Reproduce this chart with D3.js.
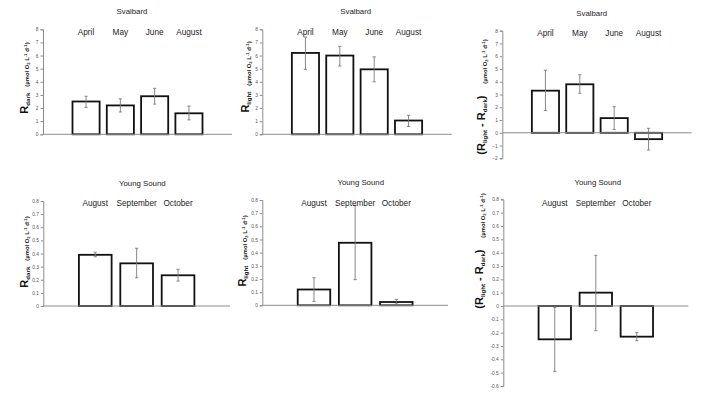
<!DOCTYPE html>
<html>
<head>
<meta charset="utf-8">
<script src="https://cdn.jsdelivr.net/npm/d3@7"></script>
<style>
  html, body { margin: 0; padding: 0; background: #fff; }
  svg { display: block; }
</style>
</head>
<body>
<svg id="chart" width="716" height="394"></svg>
<script>
// Data
const svalbardMonths = ["April", "May", "June", "August"];
const youngSoundMonths = ["August", "September", "October"];

const svalbardDark = [2.5, 2.2, 2.9, 1.6];
const svalbardDarkLo = [2.05, 1.7, 2.3, 1.1];
const svalbardDarkHi = [2.9, 2.7, 3.5, 2.15];

const svalbardLight = [6.2, 6.0, 4.95, 1.05];
const svalbardLightLo = [4.95, 5.2, 4.0, 0.6];
const svalbardLightHi = [7.4, 6.7, 5.9, 1.45];

const svalbardNet = [3.3, 3.8, 1.15, -0.5];
const svalbardNetLo = [1.75, 3.1, 0.25, -1.35];
const svalbardNetHi = [4.9, 4.55, 2.05, 0.35];

const ysDark = [0.39, 0.325, 0.234];
const ysDarkLo = [0.375, 0.215, 0.19];
const ysDarkHi = [0.41, 0.44, 0.28];

const ysLight = [0.12, 0.475, 0.025];
const ysLightLo = [0.03, 0.195, 0.01];
const ysLightHi = [0.21, 0.76, 0.045];

const ysNet = [-0.25, 0.1, -0.23];
const ysNetLo = [-0.49, -0.185, -0.26];
const ysNetHi = [-0.01, 0.38, -0.2];

const svalbardTicks = [0, 1, 2, 3, 4, 5, 6, 7, 8];
const svalbardNetTicks = [-2, -1, 0, 1, 2, 3, 4, 5, 6, 7, 8];
const ysTicks = [0, 0.1, 0.2, 0.3, 0.4, 0.5, 0.6, 0.7, 0.8];
const ysNetTicks = [-0.6, -0.5, -0.4, -0.3, -0.2, -0.1, 0, 0.1, 0.2, 0.3, 0.4, 0.5, 0.6, 0.7, 0.8];

const FONT = "'Liberation Sans', Arial, sans-serif";

const decFmt = d => d === 0 ? "0" : d3.format(".1f")(d).replace("\u2212", "-");

// Panel layout (positions only)
const panels = [
  { title: "Svalbard", cats: svalbardMonths, vals: svalbardDark, lo: svalbardDarkLo, hi: svalbardDarkHi,
    ticks: svalbardTicks, fmt: d3.format("d"), label: "dark",
    x0: 43, x1: 232, yTop: 29.3, domain: [0, 8], yBottom: 134.3,
    titleX: 132, titleY: 14, catY: 35, labX: 27.5, labY: 78 },
  { title: "Svalbard", cats: svalbardMonths, vals: svalbardLight, lo: svalbardLightLo, hi: svalbardLightHi,
    ticks: svalbardTicks, fmt: d3.format("d"), label: "light",
    x0: 262.3, x1: 451.7, yTop: 29.3, domain: [0, 8], yBottom: 134.3,
    titleX: 355.7, titleY: 14, catY: 35, labX: 249, labY: 77 },
  { title: "Svalbard", cats: svalbardMonths, vals: svalbardNet, lo: svalbardNetLo, hi: svalbardNetHi,
    ticks: svalbardNetTicks, fmt: d3.format("d"), label: "net",
    x0: 502.3, x1: 691.7, yTop: 30.7, domain: [-2, 8], yBottom: 158.3,
    titleX: 591.7, titleY: 15.5, catY: 36, labX: 485, labY: 97 },
  { title: "Young Sound", cats: youngSoundMonths, vals: ysDark, lo: ysDarkLo, hi: ysDarkHi,
    ticks: ysTicks, fmt: decFmt, label: "dark",
    x0: 43.3, x1: 230, yTop: 201, domain: [0, 0.8], yBottom: 306,
    titleX: 142.3, titleY: 185.5, catY: 206, labX: 27.5, labY: 252 },
  { title: "Young Sound", cats: youngSoundMonths, vals: ysLight, lo: ysLightLo, hi: ysLightHi,
    ticks: ysTicks, fmt: decFmt, label: "light",
    x0: 262.3, x1: 448, yTop: 200, domain: [0, 0.8], yBottom: 305.3,
    titleX: 360.7, titleY: 184.5, catY: 205.5, labX: 245.5, labY: 251 },
  { title: "Young Sound", cats: youngSoundMonths, vals: ysNet, lo: ysNetLo, hi: ysNetHi,
    ticks: ysNetTicks, fmt: decFmt, label: "net",
    x0: 503.3, x1: 688.3, yTop: 199.3, domain: [-0.6, 0.8], yBottom: 386,
    titleX: 597.7, titleY: 184.5, catY: 205.5, labX: 483, labY: 251 }
];

const svg = d3.select("#chart");

function yLabel(g, p) {
  const t = g.append("text")
    .attr("transform", `translate(${p.labX},${p.labY}) rotate(-90)`)
    .attr("text-anchor", "middle")
    .style("font-family", FONT)
    .style("font-weight", "bold")
    .style("fill", "#111");

  const big = 11, sub = 6.2, small = 5.9, tiny = 4.2;
  if (p.label === "net") {
    t.append("tspan").style("font-size", big + "px").text("(R");
    t.append("tspan").style("font-size", sub + "px").attr("dy", 2).text("light");
    t.append("tspan").style("font-size", big + "px").attr("dy", -2).text(" - R");
    t.append("tspan").style("font-size", sub + "px").attr("dy", 2).text("dark");
    t.append("tspan").style("font-size", big + "px").attr("dy", -2).text(")");
    t.append("tspan").style("font-size", small + "px").attr("dy", 1.5).text("\u2003\u2003(µmol O");
  } else {
    t.append("tspan").style("font-size", big + "px").text("R");
    t.append("tspan").style("font-size", sub + "px").attr("dy", 2).text(p.label);
    t.append("tspan").style("font-size", small + "px").attr("dy", -0.5).text("\u2003(µmol O");
  }
  t.append("tspan").style("font-size", tiny + "px").attr("dy", 1.2).text("2");
  t.append("tspan").style("font-size", small + "px").attr("dy", -1.2).text(" L");
  t.append("tspan").style("font-size", tiny + "px").attr("dy", -2).text("-1");
  t.append("tspan").style("font-size", small + "px").attr("dy", 2).text(" d");
  t.append("tspan").style("font-size", tiny + "px").attr("dy", -2).text("-1");
  t.append("tspan").style("font-size", small + "px").attr("dy", 2).text(")");
}

function drawPanel(p) {
  const g = svg.append("g");

  const y = d3.scaleLinear().domain(p.domain).range([p.yBottom, p.yTop]);

  const x = d3.scaleBand()
    .domain(p.cats)
    .range([p.x0, p.x1])
    .paddingInner(0.21)
    .paddingOuter(0.86);

  const rows = p.cats.map((c, i) => ({ c: c, v: p.vals[i], lo: p.lo[i], hi: p.hi[i] }));

  // y axis
  const yAxis = g.append("g")
    .attr("transform", `translate(${p.x0},0)`)
    .call(d3.axisLeft(y).tickValues(p.ticks).tickFormat(p.fmt).tickSize(2.5).tickPadding(2));
  yAxis.select(".domain").attr("stroke", "#8c8c8c").attr("stroke-width", 1);
  yAxis.selectAll(".tick line").attr("stroke", "#8c8c8c");
  yAxis.selectAll(".tick text")
    .style("font-family", FONT)
    .style("font-size", "4.8px")
    .style("fill", "#555");

  // bars
  g.append("g").selectAll("rect")
    .data(rows)
    .join("rect")
    .attr("x", d => x(d.c))
    .attr("y", d => y(Math.max(0, d.v)))
    .attr("width", x.bandwidth())
    .attr("height", d => Math.abs(y(d.v) - y(0)))
    .attr("fill", "#fff")
    .attr("stroke", "#111")
    .attr("stroke-width", 1.8);

  // zero line
  g.append("line")
    .attr("x1", p.x0).attr("x2", p.x1)
    .attr("y1", y(0)).attr("y2", y(0))
    .attr("stroke", "#8c8c8c")
    .attr("stroke-width", 1);

  // error bars
  const cx = d => x(d.c) + x.bandwidth() / 2;
  const eb = g.append("g").attr("stroke", "#7a7a7a").attr("stroke-width", 0.9);
  eb.selectAll("line.v")
    .data(rows)
    .join("line")
    .attr("class", "v")
    .attr("x1", cx).attr("x2", cx)
    .attr("y1", d => y(d.lo)).attr("y2", d => y(d.hi));
  eb.selectAll("line.lo")
    .data(rows)
    .join("line")
    .attr("class", "lo")
    .attr("x1", d => cx(d) - 1.6).attr("x2", d => cx(d) + 1.6)
    .attr("y1", d => y(d.lo)).attr("y2", d => y(d.lo));
  eb.selectAll("line.hi")
    .data(rows)
    .join("line")
    .attr("class", "hi")
    .attr("x1", d => cx(d) - 1.6).attr("x2", d => cx(d) + 1.6)
    .attr("y1", d => y(d.hi)).attr("y2", d => y(d.hi));

  // title
  g.append("text")
    .attr("x", p.titleX).attr("y", p.titleY)
    .attr("text-anchor", "middle")
    .style("font-family", FONT)
    .style("font-size", "7.8px")
    .style("fill", "#222")
    .text(p.title);

  // category labels above bars
  g.append("g").selectAll("text")
    .data(rows)
    .join("text")
    .attr("x", cx)
    .attr("y", p.catY)
    .attr("text-anchor", "middle")
    .style("font-family", FONT)
    .style("font-size", "8.2px")
    .style("fill", "#222")
    .text(d => d.c);

  yLabel(g, p);
}

panels.forEach(drawPanel);
</script>
</body>
</html>
